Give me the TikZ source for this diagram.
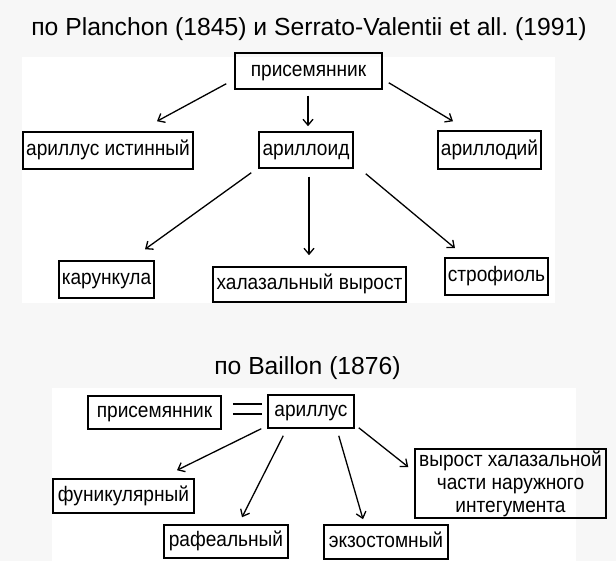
\documentclass[tikz,border=0pt]{standalone}
\usepackage{fontspec}
\setmainfont{Liberation Sans}
\newfontfamily\boxfont[FakeStretch=0.91]{Liberation Sans}
\usetikzlibrary{arrows.meta,calc}
\frenchspacing
\begin{document}
\begin{tikzpicture}[x=1pt,y=-1pt,
 box/.style={draw,line width=1.5pt,inner sep=0pt,font=\boxfont\fontsize{21}{23}\selectfont,align=center,text height=15.9pt,text depth=5pt},
 arr/.style={line width=1.3pt,-{Straight Barb[length=6pt,width=10pt,line width=1.3pt]}},
 ttl/.style={font=\fontsize{24.7}{28}\selectfont,anchor=base,inner sep=0pt},
 eqbar/.style={line width=2.5pt}]
\fill[black!3] (0,0) rectangle (616,561);
\useasboundingbox (0,0) rectangle (616,561);
\fill[white] (22,57) rectangle (555,303);
\fill[white] (52,388) rectangle (576,561);
% titles
\node[ttl] (t1) at (309,36) {по Planchon (1845) и Serrato-Valentii et all.\ (1991)};
\node[ttl] (t2) at (307.5,374) {по Baillon (1876)};
% top diagram
\node[box,minimum width=147pt,minimum height=36pt] (pris) at (308.5,71) {присемянник};
\node[box,minimum width=170pt,minimum height=37pt] (arilT) at (108,150.5) {ариллус истинный};
\node[box,minimum width=94pt,minimum height=36pt] (ariloid) at (306,150) {ариллоид};
\node[box,minimum width=103pt,minimum height=38pt] (arilD) at (489.5,150) {ариллодий};
\node[box,minimum width=95pt,minimum height=37pt] (karunk) at (106.5,279.5) {карункула};
\node[box,minimum width=193pt,minimum height=35pt] (chal) at (309.5,284.5) {халазальный вырост};
\node[box,minimum width=103pt,minimum height=37pt] (stroph) at (496.5,276.5) {строфиоль};
\draw[arr] ($(pris.south west)+(-8,-6)$) -- ($(arilT.north)+(49,-10)$);
\draw[arr] ($(pris.south)+(-0.5,6)$) -- ($(ariloid.north)+(2,-5)$);
\draw[arr] ($(pris.south east)+(6,-7)$) -- ($(arilD.north)+(-36.5,-9)$);
\draw[arr] ($(ariloid.south west)+(-7,4)$) -- ($(karunk.north)+(38.5,-11)$);
\draw[arr] ($(ariloid.south)+(3,8)$) -- ($(chal.north)+(-0.5,-11)$);
\draw[arr] ($(ariloid.south east)+(12,5)$) -- ($(stroph.north)+(-41.5,-9)$);
% bottom diagram
\node[box,minimum width=133pt,minimum height=33pt] (pris2) at (154.5,412.5) {присемянник};
\node[box,minimum width=86pt,minimum height=33pt] (aril2) at (311,411.5) {ариллус};
\node[box,minimum width=141pt,minimum height=34pt] (funik) at (123.5,496) {фуникулярный};
\node[box,minimum width=124pt,minimum height=33pt] (rafe) at (226,541.5) {рафеальный};
\node[box,minimum width=124pt,minimum height=34pt] (exo) at (386,542) {экзостомный};
\node[box,minimum width=191pt,minimum height=69pt,text height=,text depth=] (vyr) at (510.5,483.5) {вырост халазальной\\части наружного\\интегумента};
\draw[eqbar] ($(pris2.east)+(11,-8.5)$) -- ++(29,0);
\draw[eqbar] ($(pris2.east)+(11,1.5)$) -- ++(29,0);
\draw[arr] ($(aril2.south west)+(-6,0)$) -- ($(funik.north)+(53.5,-8)$);
\draw[arr] ($(aril2.south west)+(16,7)$) -- ($(rafe.north)+(16,-7)$);
\draw[arr] ($(aril2.south east)+(-16,7)$) -- ($(exo.north)+(-23,-5)$);
\draw[arr] ($(aril2.south east)+(4,-1)$) -- ($(vyr.west)+(-6,-16.5)$);
\end{tikzpicture}
\end{document}
